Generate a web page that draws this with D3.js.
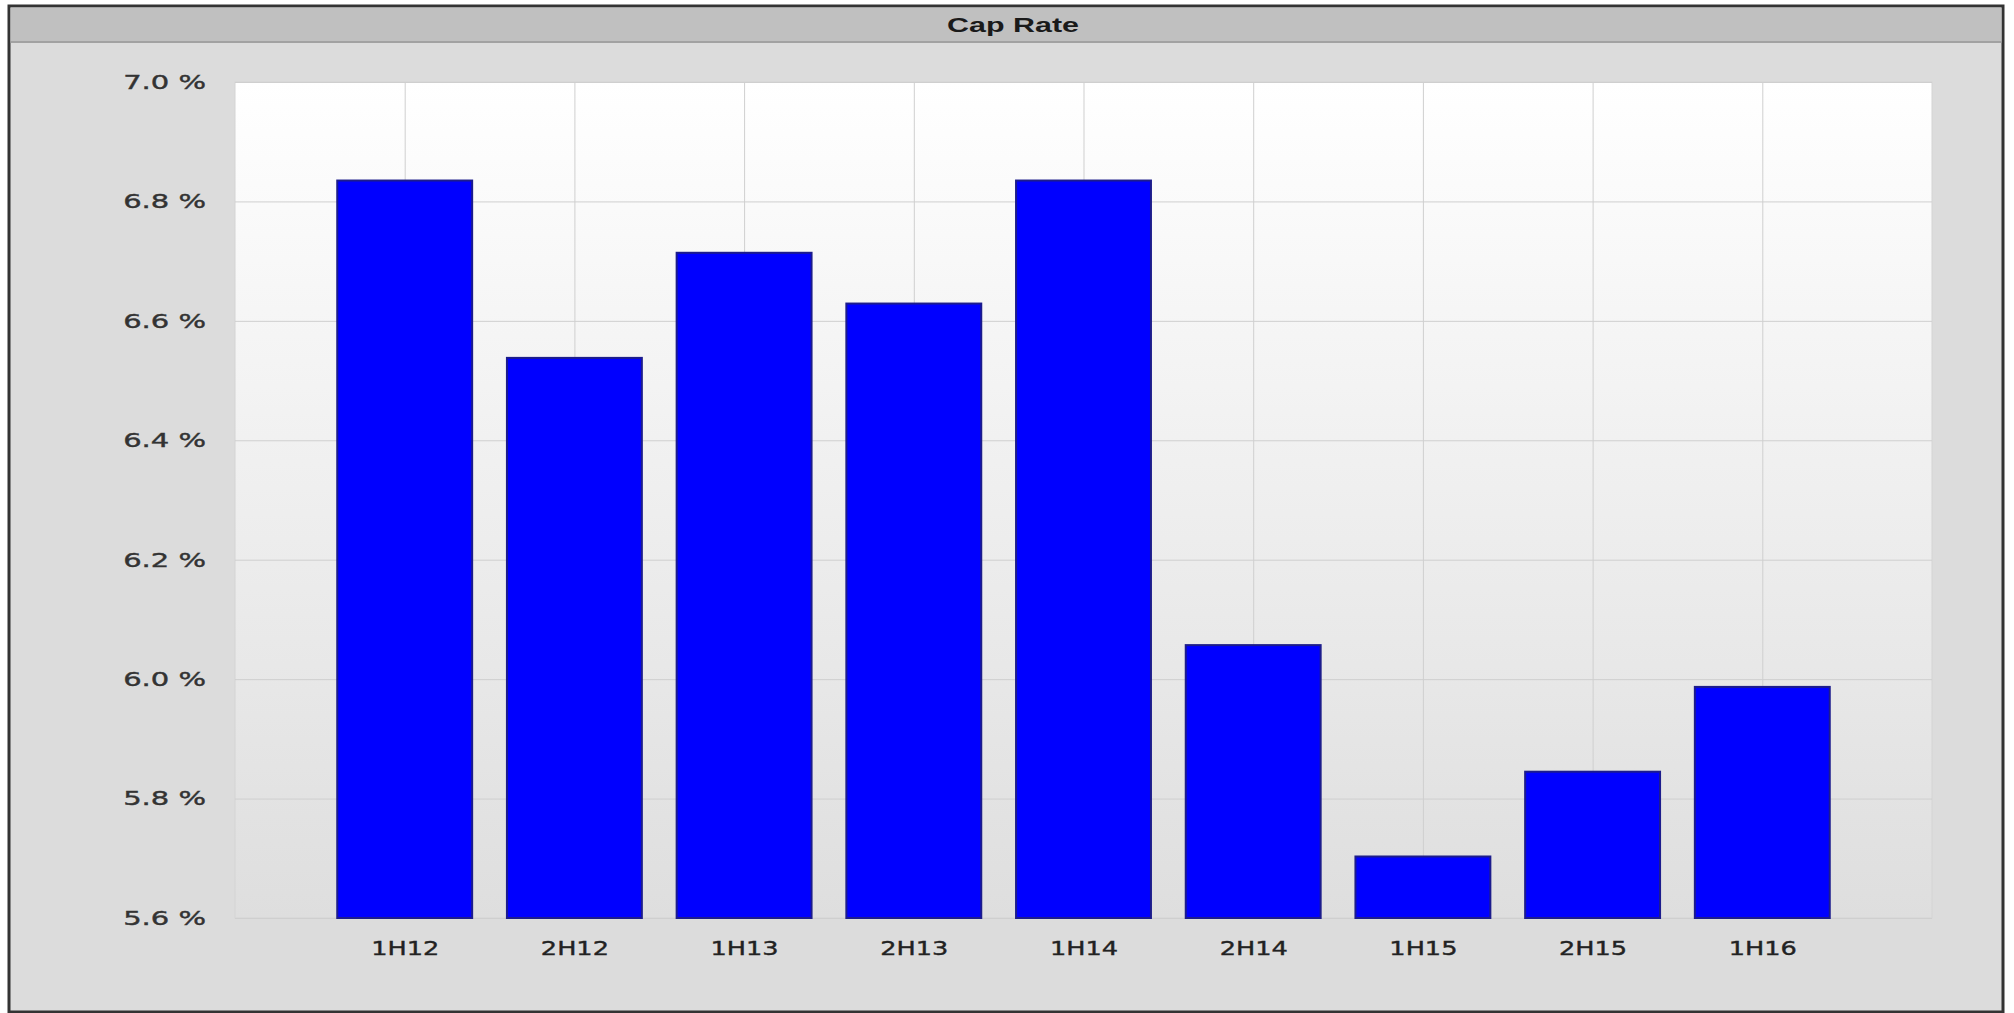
<html>
<head>
  <style>
    body{margin:0;background:#fff}
    .cap text{font-family:'DejaVu Sans',sans-serif;fill:#333}
    .cap .grid line{stroke:#cfcfcf;stroke-width:1px}
    .cap .domain{display:none}
</style>
</head>

<body>
<div id="cap-rate"></div>
<script src="https://d3js.org/d3.v7.min.js"></script>

<script>

var periods = ['1H12', '2H12', '1H13', '2H13', '1H14', '2H14', '1H15', '2H15', '1H16'];
var capRate = [6.835, 6.538, 6.714, 6.629, 6.835, 6.057, 5.703, 5.845, 5.987];
var yTicks  = [5.6, 5.8, 6.0, 6.2, 6.4, 6.6, 6.8, 7.0];
var title   = 'Cap Rate';

(function () {

  var
    width   = 2014,
    height  = 1013,
    plot    = {left: 235, right: 1932, top: 82, bottom: 918},
    stretch = 1.45,   // the reference is squashed wide, text too
    svg     = d3.select('#cap-rate').append('svg')
                .attr('class', 'cap')
                .attr('width', width)
                .attr('height', height),
    defs    = svg.append('defs'),
    xScale  = d3.scalePoint().domain(periods).range([plot.left, plot.right]).padding(1),
    yScale  = d3.scaleLinear().domain([5.6, 7.0]).range([plot.bottom, plot.top]),
    barW    = xScale.step() * 0.795;

  var grad = defs.append('linearGradient')
    .attr('id', 'plotbg')
    .attr('x1', 0).attr('y1', 0).attr('x2', 0).attr('y2', 1);
  grad.append('stop').attr('offset', '0%').attr('stop-color', '#ffffff');
  grad.append('stop').attr('offset', '100%').attr('stop-color', '#dedede');

  // outer panel
  svg.append('rect')
    .attr('x', 9).attr('y', 6)
    .attr('width', 1994).attr('height', 1006)
    .attr('fill', '#dcdcdc')
    .attr('stroke', '#333')
    .attr('stroke-width', 3);

  // title bar
  svg.append('rect')
    .attr('x', 10.5).attr('y', 7.5)
    .attr('width', 1991).attr('height', 34)
    .attr('fill', '#c0c0c0');
  svg.append('line')
    .attr('x1', 10.5).attr('x2', 2001.5)
    .attr('y1', 42).attr('y2', 42)
    .style('stroke', '#a2a2a2')
    .style('stroke-width', 2);

  svg.append('text')
    .text(title)
    .attr('transform', 'translate(1013,32) scale(' + stretch + ',1)')
    .attr('text-anchor', 'middle')
    .style('font-family', "'Liberation Sans', Arial, sans-serif")
    .style('font-weight', 'bold')
    .style('font-size', '21px')
    .style('fill', '#1a1a1a');

  // plot background
  svg.append('rect')
    .attr('x', plot.left).attr('y', plot.top)
    .attr('width', plot.right - plot.left)
    .attr('height', plot.bottom - plot.top)
    .attr('fill', 'url(#plotbg)')
    .attr('stroke', '#d4d4d4')
    .attr('stroke-width', 1);

  // horizontal grid
  svg.append('g')
    .attr('class', 'grid')
    .attr('transform', 'translate(' + plot.left + ',0)')
    .call(d3.axisLeft(yScale).tickValues(yTicks).tickSize(-(plot.right - plot.left)).tickFormat(''));

  // vertical grid
  svg.append('g')
    .attr('class', 'grid')
    .attr('transform', 'translate(0,' + plot.bottom + ')')
    .call(d3.axisBottom(xScale).tickSize(-(plot.bottom - plot.top)).tickFormat(''));

  // bars
  svg.append('g')
    .selectAll('rect')
    .data(capRate)
    .join('rect')
    .attr('x', function (d, i) { return xScale(periods[i]) - barW / 2; })
    .attr('y', function (d) { return yScale(d); })
    .attr('width', barW)
    .attr('height', function (d) { return yScale(5.6) - yScale(d); })
    .attr('fill', '#0000ff')
    .attr('stroke', '#1c1c8c')
    .attr('stroke-width', 2);

  // y axis labels
  var yAxis = svg.append('g')
    .attr('transform', 'translate(206,0)')
    .call(d3.axisLeft(yScale).tickValues(yTicks).tickSize(0).tickPadding(0)
      .tickFormat(function (d) { return d.toFixed(1) + ' %'; }));
  yAxis.selectAll('text')
    .style('font-size', '20px')
    .style('font-family', "'DejaVu Sans', sans-serif")
    .style('fill', '#333')
    .style('stroke', '#333')
    .style('stroke-width', '0.4px')
    .attr('transform', 'scale(' + stretch + ',1)');

  // x axis labels
  var xAxis = svg.append('g')
    .attr('transform', 'translate(0,' + plot.bottom + ')')
    .call(d3.axisBottom(xScale).tickSize(0).tickPadding(0));
  xAxis.selectAll('text')
    .style('font-size', '20px')
    .style('font-family', "'DejaVu Sans', sans-serif")
    .style('fill', '#222')
    .style('stroke', '#222')
    .style('stroke-width', '0.4px')
    .attr('dy', 0)
    .attr('y', 37)
    .attr('transform', 'scale(1.28,1)')
    .each(function () {
      // keep the label centred on its tick after the widen
      var t = d3.select(this.parentNode).attr('transform');
      var x = +t.match(/translate\(([\d.]+)/)[1];
      d3.select(this.parentNode).attr('transform', 'translate(' + x + ',0)');
    });

})();
</script>

</body>
</html>
